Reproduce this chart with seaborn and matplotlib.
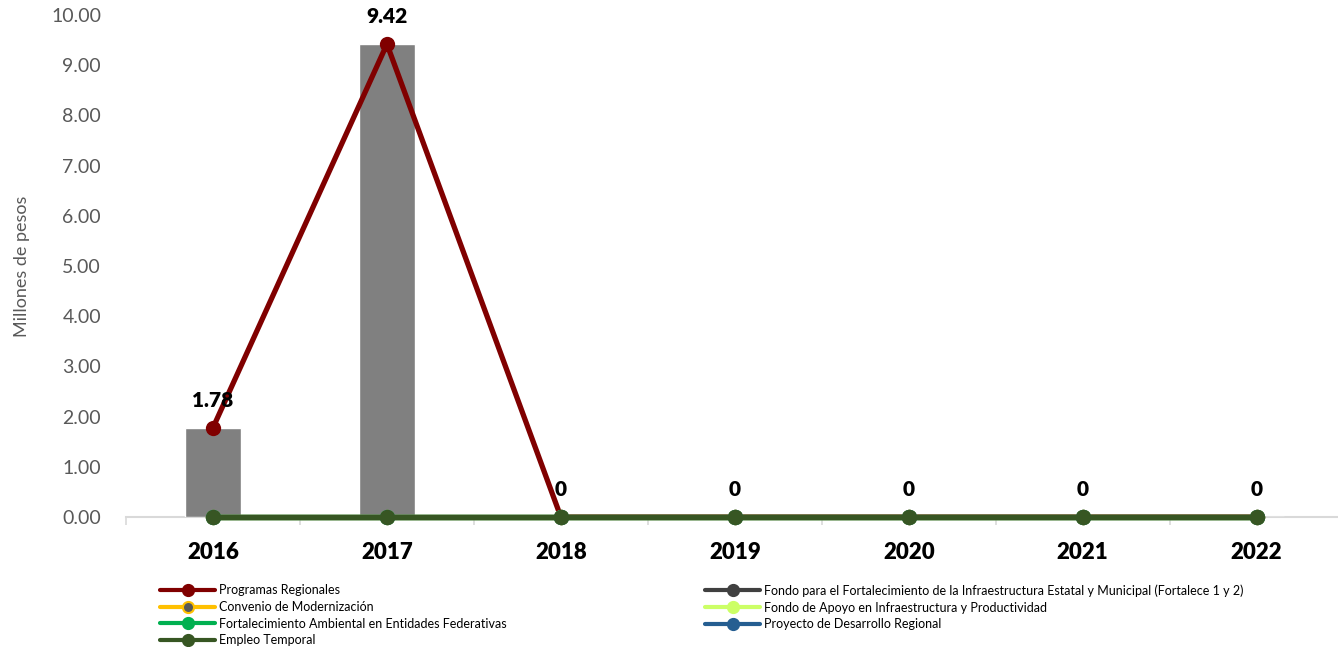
import pandas as pd
import matplotlib
matplotlib.use("Agg")
import matplotlib.pyplot as plt
from matplotlib.colors import to_hex
from matplotlib.lines import Line2D
import seaborn as sns

# data
years = ["2016", "2017", "2018", "2019", "2020", "2021", "2022"]
programas_regionales = [1.78, 9.42, 0, 0, 0, 0, 0]
fortalece = [0, 0, 0, 0, 0, 0, 0]
convenio_modernizacion = [0, 0, 0, 0, 0, 0, 0]
fondo_apoyo = [0, 0, 0, 0, 0, 0, 0]
fortalecimiento_ambiental = [0, 0, 0, 0, 0, 0, 0]
proyecto_desarrollo = [0, 0, 0, 0, 0, 0, 0]
empleo_temporal = [0, 0, 0, 0, 0, 0, 0]
point_labels = ["1.78", "9.42", "0", "0", "0", "0", "0"]

series = {
    "Programas Regionales": programas_regionales,
    "Fondo para el Fortalecimiento de la Infraestructura Estatal y Municipal (Fortalece 1 y 2)": fortalece,
    "Convenio de Modernización": convenio_modernizacion,
    "Fondo de Apoyo en Infraestructura y Productividad": fondo_apoyo,
    "Fortalecimiento Ambiental en Entidades Federativas": fortalecimiento_ambiental,
    "Proyecto de Desarrollo Regional": proyecto_desarrollo,
    "Empleo Temporal": empleo_temporal,
}
colors = {
    "Programas Regionales": "#800000",
    "Fondo para el Fortalecimiento de la Infraestructura Estatal y Municipal (Fortalece 1 y 2)": "#404040",
    "Convenio de Modernización": "#FFC000",
    "Fondo de Apoyo en Infraestructura y Productividad": "#CCFF66",
    "Fortalecimiento Ambiental en Entidades Federativas": "#00B050",
    "Proyecto de Desarrollo Regional": "#255E91",
    "Empleo Temporal": "#375623",
}

# total per year (grey bars)
total = [sum(v[i] for v in series.values()) for i in range(len(years))]

rows = []
for name, vals in series.items():
    for i, v in enumerate(vals):
        rows.append({"serie": name, "pos": i, "valor": v})
df = pd.DataFrame(rows)

sns.set_theme(style="white")
plt.rcParams["font.family"] = ["Lato", "DejaVu Sans"]

fig = plt.figure(figsize=(13.38, 6.47), dpi=100)
ax = fig.add_axes([0.0942, 0.2009, 0.91, 0.7759])

sns.barplot(x=years, y=total, color="#808080", saturation=1, width=0.32, ax=ax, zorder=1)

sns.lineplot(data=df, x="pos", y="valor", hue="serie", hue_order=list(series.keys()),
             palette=colors, marker="o", markersize=11, markeredgewidth=0,
             linewidth=3.8, legend=False, sort=False, ax=ax)
# stack the lines in series order, Empleo Temporal on top
order = [to_hex(c).lower() for c in colors.values()]
for ln in ax.lines:
    ln.set_clip_on(False)
    c = to_hex(ln.get_color()).lower()
    if c in order:
        ln.set_zorder(3 + order.index(c) * 0.1)

for i, (v, lab) in enumerate(zip(programas_regionales, point_labels)):
    ax.annotate(lab, (i, v), xytext=(0, 13), textcoords="offset points",
                ha="center", va="bottom", fontsize=15, fontweight="heavy", color="black",
                zorder=6)

ax.set_xlim(-0.5, 6.5)
ax.set_ylim(0, 10)
ax.set_yticks(range(0, 11))
ax.set_yticklabels([f"{t:.2f}" for t in range(0, 11)], fontsize=14, color="#595959")
ax.set_xticks(range(len(years)))
ax.set_xticklabels(years, fontsize=16, fontweight="heavy", color="black")
ax.set_xticks([i - 0.5 for i in range(len(years) + 1)], minor=True)
ax.tick_params(axis="x", which="major", length=0, pad=18)
ax.tick_params(axis="x", which="minor", length=6, color="#D9D9D9", width=1.2, bottom=True)
ax.tick_params(axis="y", length=0, pad=18)
ax.set_xlabel("")
ax.set_ylabel("Millones de pesos", fontsize=13, color="#595959")
ax.yaxis.set_label_coords(-0.079, 0.5)

for s in ["top", "right", "left"]:
    ax.spines[s].set_visible(False)
ax.spines["bottom"].set_color("#D9D9D9")
ax.spines["bottom"].set_linewidth(1.5)
ax.spines["bottom"].set_zorder(0)


def handle(name):
    c = colors[name]
    face = "#595959" if name == "Convenio de Modernización" else c
    return Line2D([], [], color=c, lw=3, marker="o", ms=8, mfc=face, mec=c, mew=1.5)


left_names = ["Programas Regionales", "Convenio de Modernización",
              "Fortalecimiento Ambiental en Entidades Federativas", "Empleo Temporal"]
right_names = ["Fondo para el Fortalecimiento de la Infraestructura Estatal y Municipal (Fortalece 1 y 2)",
               "Fondo de Apoyo en Infraestructura y Productividad",
               "Proyecto de Desarrollo Regional"]

for names, x0 in [(left_names, 0.1196), (right_names, 0.527)]:
    leg = fig.legend([handle(n) for n in names], names, loc="upper left",
                     bbox_to_anchor=(x0, 0.097), frameon=False, fontsize=9,
                     handlelength=4.4, handletextpad=0.3, labelspacing=0.38,
                     borderpad=0, borderaxespad=0)
    for t in leg.get_texts():
        t.set_color("#000000")

fig.savefig("out.png", dpi=100)
